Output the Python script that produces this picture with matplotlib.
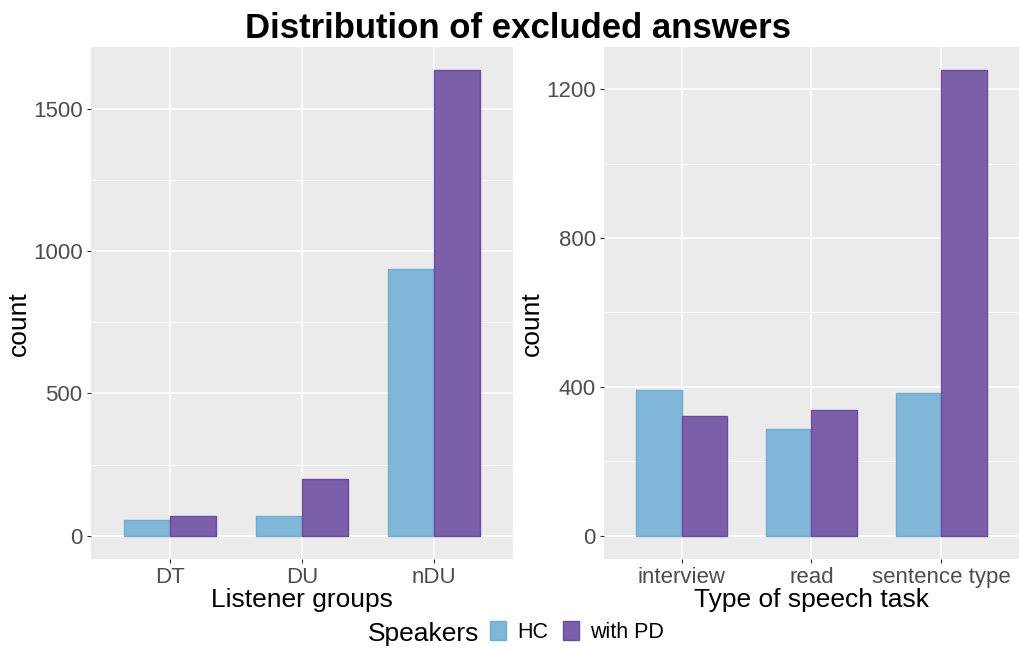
import numpy as np
import matplotlib.pyplot as plt
from matplotlib.patches import Patch
from matplotlib.ticker import MultipleLocator

plt.rcParams['font.family'] = ['Liberation Sans', 'DejaVu Sans']

speakers = ['HC', 'with PD']
colors = ['#80b6d7', '#7b5fa9']
edges = ['#72abd1', '#6a4ba0']

listener_groups = ['DT', 'DU', 'nDU']
listener_hc = [57, 68, 937]
listener_pd = [70, 201, 1636]

tasks = ['interview', 'read', 'sentence type']
task_hc = [391, 288, 383]
task_pd = [321, 339, 1251]

fig = plt.figure(figsize=(10.2, 6.48), dpi=100)
ax1 = fig.add_axes([91 / 1020, 1 - 559 / 648, 422 / 1020, 512 / 648])
ax2 = fig.add_axes([604 / 1020, 1 - 559 / 648, 415 / 1020, 512 / 648])


def draw(ax, cats, hc, pd, major, minor, xlabel, ylab_x):
    x = np.arange(1, len(cats) + 1)
    w = 0.35
    ax.bar(x - w / 2, hc, w, color=colors[0], edgecolor=edges[0], linewidth=1, zorder=3)
    ax.bar(x + w / 2, pd, w, color=colors[1], edgecolor=edges[1], linewidth=1, zorder=3)
    top = max(max(hc), max(pd))
    ax.set_ylim(-0.05 * top, 1.05 * top)
    ax.set_xlim(0.4, len(cats) + 0.6)
    ax.set_facecolor('#ebebeb')
    ax.yaxis.set_major_locator(MultipleLocator(major))
    ax.yaxis.set_minor_locator(MultipleLocator(minor))
    ax.set_xticks(x)
    ax.set_xticklabels(cats)
    ax.grid(True, which='major', color='white', linewidth=1.1, zorder=0)
    ax.grid(True, which='minor', axis='y', color='white', linewidth=0.55, zorder=0)
    ax.set_axisbelow(True)
    for s in ax.spines.values():
        s.set_visible(False)
    ax.tick_params(which='major', length=3, width=0.8, color='#333333',
                   labelsize=16, labelcolor='#4d4d4d', pad=3)
    ax.tick_params(which='minor', length=0)
    ax.set_xlabel(xlabel, fontsize=19, labelpad=0)
    ax.set_ylabel('count', fontsize=19)
    ax.yaxis.set_label_coords(ylab_x, 0.5, transform=fig.transFigure)


draw(ax1, listener_groups, listener_hc, listener_pd, 500, 250, 'Listener groups', 31 / 1020)
draw(ax2, tasks, task_hc, task_pd, 400, 200, 'Type of speech task', 544 / 1020)

fig.text(518 / 1020, 1 - 28 / 648, 'Distribution of excluded answers',
         ha='center', va='center', fontsize=25, fontweight='bold')

fig.text(368 / 1020, 1 - 634 / 648, 'Speakers', ha='left', va='center', fontsize=19)
handles = [Patch(facecolor=colors[i], edgecolor=edges[i], label=speakers[i]) for i in range(2)]
fig.legend(handles=handles, loc='center left', bbox_to_anchor=(490 / 1020, 1 - 632 / 648),
           ncol=2, frameon=False, fontsize=15.5, handlelength=0.75, handleheight=1.0,
           handletextpad=0.5, columnspacing=0.7, borderaxespad=0, borderpad=0)

fig.savefig('out.png', dpi=100)
